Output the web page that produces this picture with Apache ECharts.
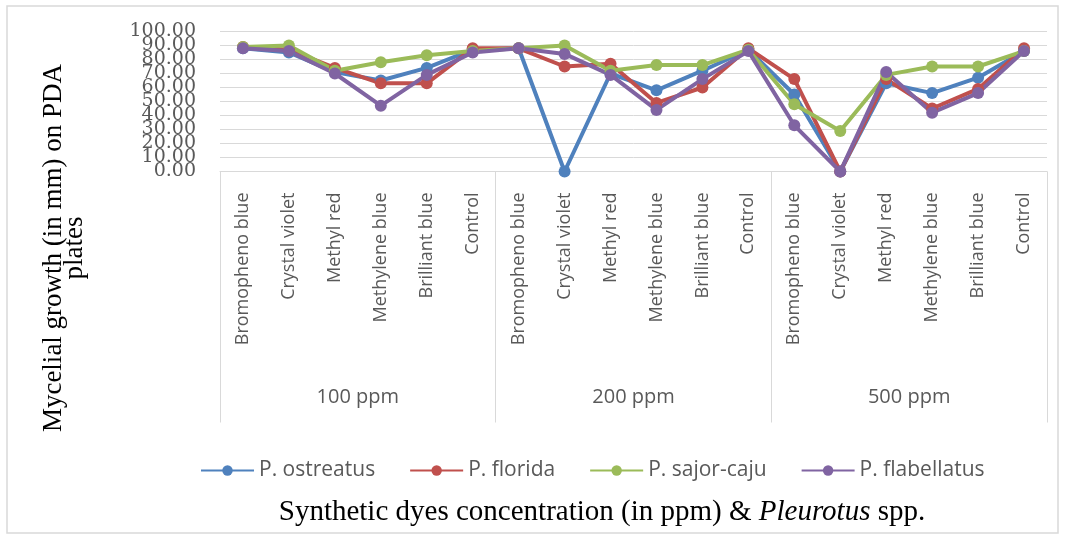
<!DOCTYPE html>
<html>
<head>
<meta charset="utf-8">
<script src="https://cdn.jsdelivr.net/npm/echarts@6/dist/echarts.min.js"></script>
<style>
  html, body { margin: 0; padding: 0; background: #fff; }
  #chart { width: 1065px; height: 538px; }
</style>
</head>
<body>
<div id="chart"></div>
<script>
  // dyes, repeated for each concentration
  var dyes = ['Bromopheno blue', 'Crystal violet', 'Methyl red', 'Methylene blue', 'Brilliant blue', 'Control'];
  var concentrations = ['100 ppm', '200 ppm', '500 ppm'];
  var categories = dyes.concat(dyes, dyes);

  var seriesNames = ['P. ostreatus', 'P. florida', 'P. sajor-caju', 'P. flabellatus'];
  var ostreatus = [88, 85, 71, 65, 74, 87, 88, 0, 70, 58, 72, 87, 55, 0, 63, 56, 67, 86];
  var florida = [89, 87, 74, 63, 63, 88, 88, 75, 77, 49, 60, 88, 66, 0, 66, 45, 59, 88];
  var sajorCaju = [89, 90, 72, 78, 83, 86, 88, 90, 72, 76, 76, 87, 48, 29, 69, 75, 75, 86];
  var flabellatus = [88, 86, 70, 47, 69, 85, 88, 84, 69, 44, 66, 86, 33, 0, 71, 42, 56, 86];

  var colors = ['#4F81BD', '#C0504D', '#9BBB59', '#8064A2'];
  var gray = '#595959';
  var lineGray = '#d9d9d9';

  function lineSeries(name, data, color) {
    return {
      type: 'line',
      name: name,
      data: data,
      xAxisIndex: 0,
      yAxisIndex: 0,
      symbol: 'circle',
      symbolSize: 12,
      color: color,
      lineStyle: { width: 4, color: color },
      itemStyle: { color: color }
    };
  }

  // the tick labels overlap each other in the original, so they are split
  // over two stacked axes to keep ECharts from hiding any of them
  function yAxisFor(showEven, grid) {
    return {
      type: 'value',
      min: 0,
      max: 100,
      interval: 10,
      position: 'left',
      axisLine: { show: false },
      axisTick: { show: false },
      splitLine: { show: grid, lineStyle: { color: lineGray, width: 1 } },
      axisLabel: {
        margin: 24,
        fontFamily: 'DejaVu Serif',
        fontSize: 19,
        color: gray,
        formatter: function (v) {
          var even = Math.round(v) % 20 === 0;
          return even === showEven ? v.toFixed(2) : '';
        }
      }
    };
  }

  var chart = echarts.init(document.getElementById('chart'));
  chart.setOption({
    animation: false,
    color: colors,
    grid: { left: 220, right: 18, top: 31.5, bottom: 366.5, containLabel: false },
    legend: {
      left: 195,
      top: 455,
      itemWidth: 53,
      itemHeight: 13,
      itemGap: 34,
      textStyle: { fontFamily: 'Open Sans', fontSize: 21, color: gray },
      data: seriesNames
    },
    xAxis: [{
      type: 'category',
      data: categories,
      position: 'bottom',
      axisLine: { show: true, lineStyle: { color: lineGray, width: 1 } },
      axisTick: { show: false },
      axisLabel: {
        interval: 0,
        rotate: 90,
        margin: 21,
        fontFamily: 'Open Sans',
        fontSize: 18,
        color: gray
      }
    }, {
      type: 'category',
      data: concentrations,
      position: 'bottom',
      offset: 0,
      axisLine: { show: false },
      axisTick: { show: true, length: 251, lineStyle: { color: lineGray, width: 1 } },
      axisLabel: {
        interval: 0,
        margin: 216,
        fontFamily: 'Open Sans',
        fontSize: 20,
        color: gray
      }
    }],
    yAxis: [yAxisFor(true, true), yAxisFor(false, false)],
    series: [
      lineSeries(seriesNames[0], ostreatus, colors[0]),
      lineSeries(seriesNames[1], florida, colors[1]),
      lineSeries(seriesNames[2], sajorCaju, colors[2]),
      lineSeries(seriesNames[3], flabellatus, colors[3])
    ],
    graphic: [{
      type: 'rect',
      silent: true,
      z: -1,
      shape: { x: 7, y: 6, width: 1051, height: 527 },
      style: { fill: null, stroke: lineGray, lineWidth: 1.5 }
    }, {
      // y axis title
      type: 'text',
      x: 64,
      y: 248,
      rotation: Math.PI / 2,
      style: {
        text: 'Mycelial growth (in mm) on PDA\nplates',
        font: '27px "Liberation Serif"',
        fill: '#000',
        align: 'center',
        verticalAlign: 'middle',
        lineHeight: 21
      }
    }, {
      // x axis title
      type: 'text',
      x: 602,
      y: 512,
      style: {
        text: '{a|Synthetic dyes concentration (in ppm) & }{b|Pleurotus}{a| spp.}',
        align: 'center',
        verticalAlign: 'middle',
        rich: {
          a: { fontFamily: 'Liberation Serif', fontSize: 29, fill: '#000', color: '#000' },
          b: { fontFamily: 'Liberation Serif', fontSize: 29, fontStyle: 'italic', fill: '#000', color: '#000' }
        }
      }
    }]
  });
</script>
</body>
</html>
